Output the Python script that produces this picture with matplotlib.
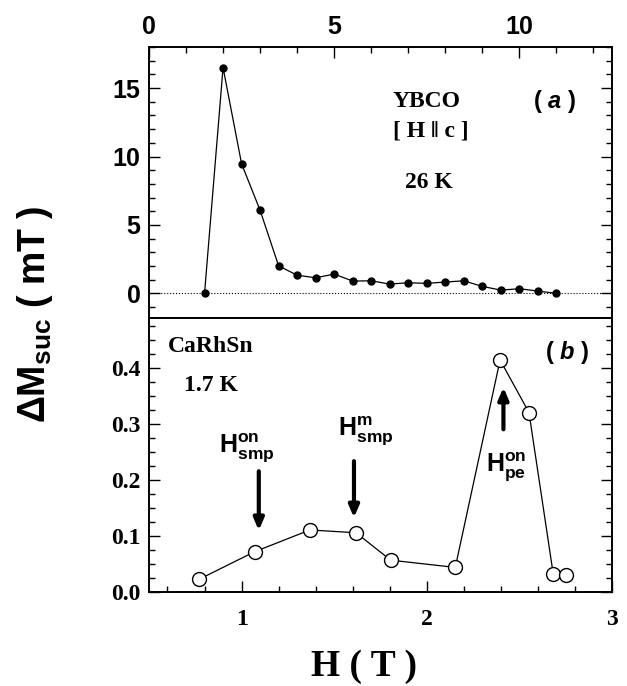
import matplotlib
matplotlib.use('Agg')
import matplotlib.pyplot as plt
from matplotlib.ticker import MultipleLocator

# (a) YBCO, 26 K  -- upper axis, H in T
h_ybco = [1.5, 2.0, 2.5, 3.0, 3.5, 4.0, 4.5, 5.0, 5.5, 6.0, 6.5,
          7.0, 7.5, 8.0, 8.5, 9.0, 9.5, 10.0, 10.5, 11.0]
dm_ybco = [0.0, 16.5, 9.47, 6.07, 2.01, 1.33, 1.14, 1.41, 0.90, 0.92, 0.68,
           0.78, 0.73, 0.83, 0.92, 0.51, 0.24, 0.34, 0.17, 0.0]

# (b) CaRhSn, 1.7 K -- lower axis
h_carhsn = [0.772, 1.07, 1.369, 1.618, 1.805, 2.154, 2.396, 2.552, 2.683, 2.751]
dm_carhsn = [0.023, 0.072, 0.111, 0.106, 0.057, 0.044, 0.415, 0.321, 0.032, 0.030]

plt.rcParams['mathtext.fontset'] = 'custom'
plt.rcParams['mathtext.rm'] = 'Liberation Sans:bold'
plt.rcParams['mathtext.bf'] = 'Liberation Sans:bold'
plt.rcParams['mathtext.it'] = 'Liberation Sans:bold:italic'

SANS = 'Liberation Sans'
SERIF = 'Liberation Serif'


def style_axis(ax):
    for s in ax.spines.values():
        s.set_linewidth(1.4)
    ax.tick_params(which='both', direction='in', width=1.0)
    ax.tick_params(which='major', length=8)
    ax.tick_params(which='minor', length=4)


def main():
    fig = plt.figure(figsize=(6.27, 6.86), dpi=100)
    ax1 = fig.add_axes([0.2376, 0.5364, 0.7384, 0.3951])
    ax2 = fig.add_axes([0.2376, 0.137, 0.7384, 0.3994])

    # top panel
    ax1.plot(h_ybco, dm_ybco, '-o', color='k', lw=0.9, ms=5)
    ax1.axhline(0, color='k', lw=0.8, ls=':')
    ax1.set_xlim(0, 12.5)
    ax1.set_ylim(-1.8, 18)
    ax1.xaxis.set_major_locator(MultipleLocator(5))
    ax1.xaxis.set_minor_locator(MultipleLocator(1))
    ax1.yaxis.set_major_locator(MultipleLocator(5))
    ax1.yaxis.set_minor_locator(MultipleLocator(1))
    style_axis(ax1)
    ax1.tick_params(which='both', top=True, bottom=False, labeltop=True,
                    labelbottom=False, left=True, right=True, pad=6)
    for lab in ax1.get_xticklabels() + ax1.get_yticklabels():
        lab.set_fontfamily(SANS)
        lab.set_fontweight('bold')
        lab.set_fontsize(18)

    ax1.text(0.527, 0.80, 'YBCO', transform=ax1.transAxes, family=SERIF,
             weight='bold', fontsize=17, ha='left', va='center')
    ax1.text(0.527, 0.69, '[ H \u2016 c ]', transform=ax1.transAxes, family=SERIF,
             weight='bold', fontsize=17, ha='left', va='center')
    ax1.text(0.553, 0.50, '26 K', transform=ax1.transAxes, family=SERIF,
             weight='bold', fontsize=17, ha='left', va='center')
    ax1.text(0.83, 0.80, '( $a$ )', transform=ax1.transAxes, family=SANS,
             weight='bold', fontsize=17, ha='left', va='center')

    # bottom panel
    ax2.plot(h_carhsn, dm_carhsn, '-o', color='k', lw=0.9, ms=10,
             mfc='white', mec='k', mew=1.0)
    ax2.set_xlim(0.5, 3.0)
    ax2.set_ylim(0, 0.49)
    ax2.xaxis.set_major_locator(MultipleLocator(1))
    ax2.xaxis.set_minor_locator(MultipleLocator(0.2))
    ax2.yaxis.set_minor_locator(MultipleLocator(0.025))
    ax2.set_yticks([0.0, 0.1, 0.2, 0.3, 0.4])
    ax2.set_yticklabels(['0.0', '0.1', '0.2', '0.3', '0.4'])
    style_axis(ax2)
    ax2.tick_params(which='both', top=False, bottom=True, left=True, right=True, pad=6)
    ax2.tick_params(axis='x', pad=12)
    for lab in ax2.get_xticklabels() + ax2.get_yticklabels():
        lab.set_fontfamily(SERIF)
        lab.set_fontweight('bold')
        lab.set_fontsize(17)

    ax2.text(0.04, 0.895, 'CaRhSn', transform=ax2.transAxes, family=SERIF,
             weight='bold', fontsize=17, ha='left', va='center')
    ax2.text(0.075, 0.755, '1.7 K', transform=ax2.transAxes, family=SERIF,
             weight='bold', fontsize=17, ha='left', va='center')
    ax2.text(0.855, 0.875, '( $b$ )', transform=ax2.transAxes, family=SANS,
             weight='bold', fontsize=17, ha='left', va='center')

    arrow = dict(arrowstyle='-|>,head_length=0.7,head_width=0.3', lw=3,
                 color='k', shrinkA=0, shrinkB=0)
    ax2.annotate('', xy=(1.093, 0.11), xytext=(1.093, 0.216), arrowprops=arrow)
    ax2.annotate('', xy=(1.607, 0.133), xytext=(1.607, 0.234), arrowprops=arrow)
    ax2.annotate('', xy=(2.414, 0.366), xytext=(2.414, 0.291), arrowprops=arrow)

    ax2.text(1.03, 0.257, r'$\mathrm{H}_{\mathrm{smp}}^{\mathrm{on}}$', fontsize=18,
             ha='center', va='center')
    ax2.text(1.67, 0.287, r'$\mathrm{H}_{\mathrm{smp}}^{\mathrm{m}}$', fontsize=18,
             ha='center', va='center')
    ax2.text(2.43, 0.222, r'$\mathrm{H}_{\mathrm{pe}}^{\mathrm{on}}$', fontsize=18,
             ha='center', va='center')

    fig.text(0.056, 0.542, r'$\Delta\mathrm{M}_{\mathrm{suc}}$ ( mT )', rotation=90,
             family=SANS, weight='bold', fontsize=27, ha='center', va='center')
    fig.text(0.58, 0.028, 'H ( T )', family=SERIF, weight='bold', fontsize=27,
             ha='center', va='center')

    fig.savefig('out.png', dpi=100)


if __name__ == '__main__':
    main()
